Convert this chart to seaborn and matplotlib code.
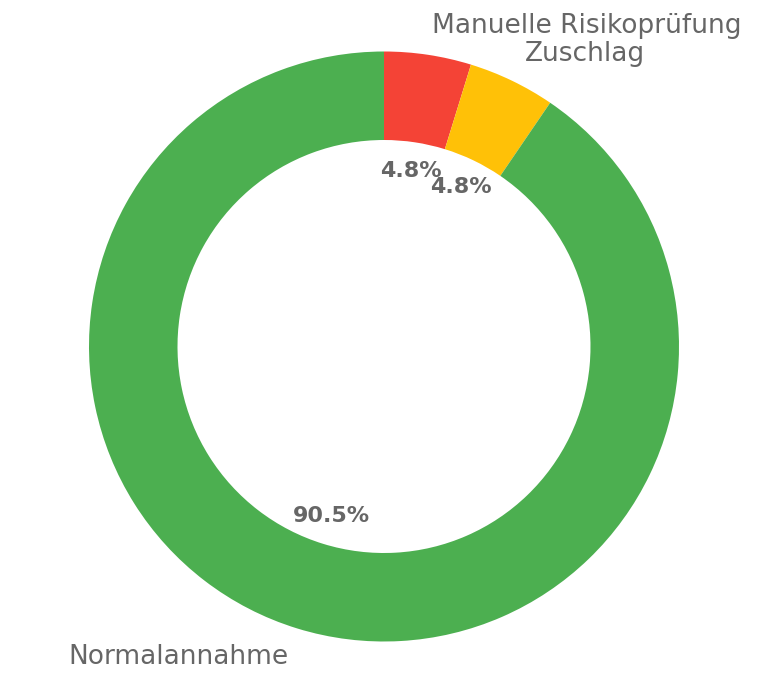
import matplotlib
matplotlib.use("Agg")
import matplotlib.pyplot as plt
import seaborn as sns

categories = ["Manuelle Risikoprüfung", "Zuschlag", "Normalannahme"]
counts = [1, 1, 19]
colors = ["#F44336", "#FFC107", "#4CAF50"]

sns.set_theme(style="white")
plt.rcParams['font.family'] = ['DejaVu Sans']

fig = plt.figure(figsize=(7.68, 6.92), dpi=100)
ax = fig.add_axes([0, 0, 1, 1])
wedges, texts, autotexts = ax.pie(
    counts, labels=categories, colors=sns.color_palette(colors),
    startangle=90, counterclock=False, autopct='%1.1f%%',
    pctdistance=0.6, labeldistance=1.1,
    wedgeprops=dict(width=0.3, edgecolor='none'),
    textprops=dict(color='#666666', fontsize=19))
for t in autotexts:
    t.set_fontsize(16)
    t.set_fontweight('bold')
    t.set_color('#666666')
ax.set_aspect('auto')
ax.set_xlim(-384/295, 384/295)
ax.set_ylim(-345.5/295, 346.5/295)
ax.axis('off')
fig.savefig("out.png", dpi=100)
